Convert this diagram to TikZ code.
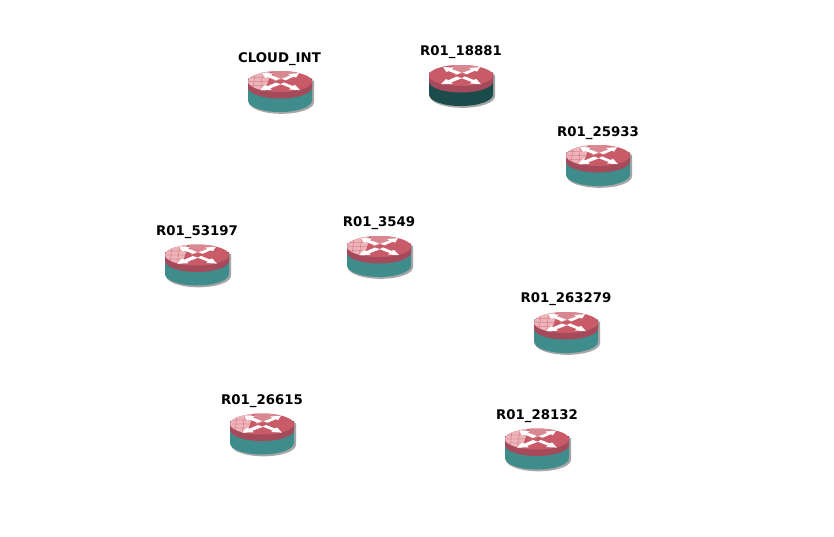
\documentclass[tikz,border=0pt]{standalone}
\usepackage{fontspec}
\setmainfont{DejaVu Sans}
\definecolor{rtop}{HTML}{C95B69}
\definecolor{rpink}{HTML}{EDB4BA}
\definecolor{rmid}{HTML}{D98791}
\definecolor{rrim}{HTML}{A54A5B}
\definecolor{teal1}{HTML}{3E8C8C}
\definecolor{teal2}{HTML}{1B4C4C}
\tikzset{
  lbl/.style={font=\bfseries\fontsize{13.3}{15}\selectfont,text=black,inner sep=0pt,anchor=center},
  pics/router/.style 2 args={code={
    % shadow
    \fill[black!35] (-31,-1) -- (-31,20.8) arc[start angle=180,end angle=0,x radius=32.5,y radius=11.5] -- (34,-1) -- cycle;
    % body
    \fill[#1] (-32,-3) -- (-32,19) arc[start angle=180,end angle=0,x radius=32,y radius=11.5] -- (32,-3) -- cycle;
    % rim
    \fill[rrim] (-32,-3) -- (-32,6) arc[start angle=180,end angle=0,x radius=32,y radius=11] -- (32,-3) -- cycle;
    % top
    \fill[rtop] (0,0) ellipse[x radius=32,y radius=10.5];
    \begin{scope}
      \clip (0,0) ellipse[x radius=32,y radius=10.5];
      \fill[rmid] (-8,-12) -- (22,-12) -- (8,-4) -- (-6,0) -- cycle;
      \fill[#2] (-33,-12) -- (-10,-12) -- (-11,-3) -- (-16,12) -- (-33,12) -- cycle;
      \draw[rtop,line width=.25] (-33,-4) -- (-8,-4) (-33,0) -- (-10,0) (-33,4) -- (-12,4) (-25,-12) -- (-27,12) (-17,-12) -- (-20,12);
    \end{scope}
    \fill[white] (-18,-8.5) -- (-7,-8) -- (-9,-6.4) -- (0,-3) -- (-4,-1.2) -- (-12.5,-4.4) -- (-14.5,-3.4) -- cycle;
    \fill[white] (1.5,-2.8) -- (10.5,-6) -- (8,-7.4) -- (19,-8.4) -- (16,-3.8) -- (13.8,-4.8) -- (5.5,-1.2) -- cycle;
    \fill[white] (-4,1) -- (-12.5,4.6) -- (-15,3.6) -- (-20,8.6) -- (-8,8.2) -- (-10,6.9) -- (1,2.8) -- cycle;
    \fill[white] (4,0.9) -- (12.5,4.4) -- (15,3.4) -- (20,8.6) -- (9,8) -- (11,6.7) -- (0.5,2.6) -- cycle;
  }}
}
\begin{document}
\begin{tikzpicture}[x=1pt,y=-1pt]
\useasboundingbox (0,0) rectangle (834,536);
\pic at (280,81.5) {router={teal1}{rpink}};
\node[lbl] (n1) at (279.5,58.8) {CLOUD\_INT};
\pic at (461,75.5) {router={teal2}{rtop}};
\node[lbl] (n2) at (461,51.8) {R01\_18881};
\pic at (598,155.5) {router={teal1}{rpink}};
\node[lbl] (n3) at (598,132.8) {R01\_25933};
\pic at (197,255) {router={teal1}{rpink}};
\node[lbl] (n4) at (197,231.8) {R01\_53197};
\pic at (379,246.5) {router={teal1}{rpink}};
\node[lbl] (n5) at (379,222.8) {R01\_3549};
\pic at (566,322.5) {router={teal1}{rpink}};
\node[lbl] (n6) at (566,298.8) {R01\_263279};
\pic at (262,424) {router={teal1}{rpink}};
\node[lbl] (n7) at (262,400.8) {R01\_26615};
\pic at (537,439) {router={teal1}{rpink}};
\node[lbl] (n8) at (537,415.8) {R01\_28132};
\end{tikzpicture}
\end{document}
